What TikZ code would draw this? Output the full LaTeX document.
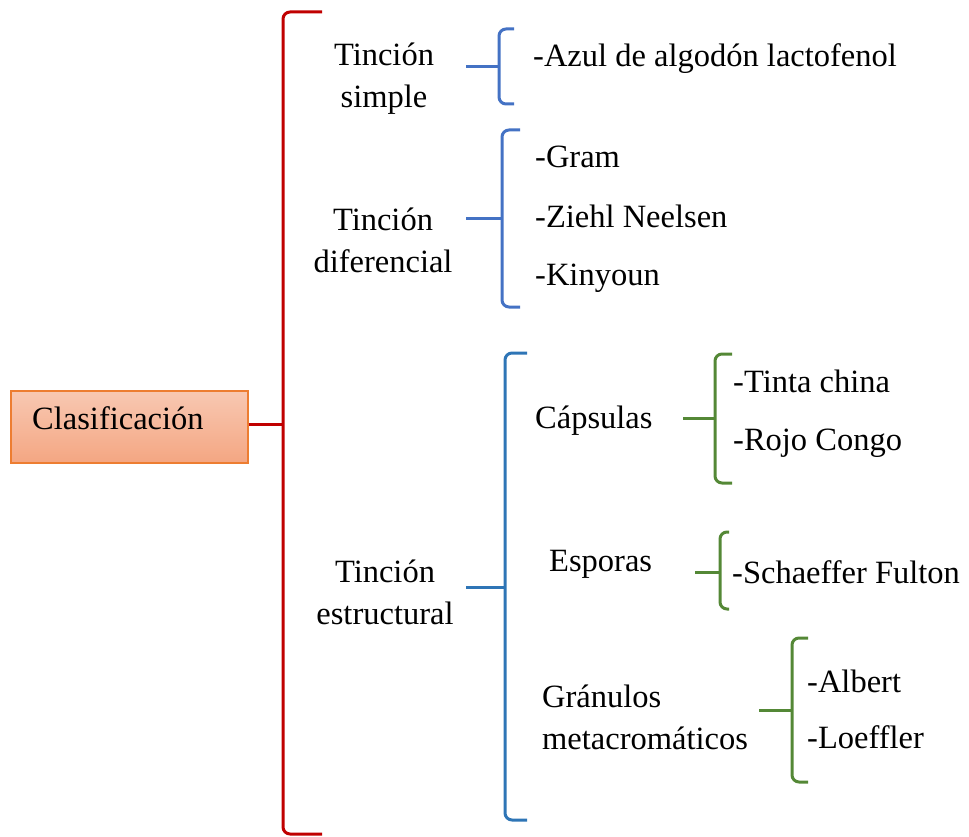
\documentclass[tikz,border=0pt]{standalone}
\usepackage{fontspec}
\setmainfont{Liberation Serif}
\usetikzlibrary{positioning}
\definecolor{bracered}{RGB}{192,0,0}
\definecolor{braceblue}{RGB}{68,114,196}
\definecolor{braceblueb}{RGB}{46,117,182}
\definecolor{bracegreen}{RGB}{84,136,54}
\definecolor{boxline}{RGB}{237,125,49}
\definecolor{boxtop}{RGB}{248,200,178}
\definecolor{boxbot}{RGB}{244,166,130}

\begin{document}
\begin{tikzpicture}[x=1pt,y=-1pt,
  every node/.style={font=\fontsize{32.5}{42}\selectfont, inner sep=0pt},
  leaf/.style={anchor=base west},
  box/.style={draw=boxline, line width=1.2pt, top color=boxtop, bottom color=boxbot,
    minimum width=237pt, minimum height=72pt},
  brace/.style={line width=3pt, rounded corners=7pt}]
\useasboundingbox (0,0) rectangle (969,837);

% root box
\node[box] (clas) at (129.5,427) {};
\node[leaf] (clastxt) at (32,429) {Clasificación};

% first level
\node[anchor=north, align=center] (simple) at (384,43) {Tinción\\simple};
\node[anchor=north, align=center] (difer) at (383,208) {Tinción\\diferencial};
\node[anchor=north, align=center] (estruc) at (385,560) {Tinción\\estructural};

% red brace
\coordinate (rtop) at (322,12);
\coordinate (rmid) at (283,424);
\coordinate (rbot) at (322,834);
\draw[brace, bracered] (clas.east |- rmid) -- (rmid);
\draw[brace, bracered] (rtop) -| (rmid) |- (rbot);

% tincion simple
\coordinate (s1) at (466,67);
\coordinate (b1) at (499,67);
\draw[brace, braceblue] (s1) -- (b1);
\draw[brace, braceblue] (514,29) -| (b1) |- (514,104);
\node[leaf] (azul) at (533,67) {-Azul de algodón lactofenol};

% tincion diferencial
\coordinate (s2) at (466,219);
\coordinate (b2) at (502,219);
\draw[brace, braceblue] (s2) -- (b2);
\draw[brace, braceblue] (520,130) -| (b2) |- (520,307);
\foreach \nm/\yy/\txt in {gram/168/-Gram, ziehl/227/-Ziehl Neelsen, kiny/285/-Kinyoun}
  \node[leaf] (\nm) at (535,\yy) {\txt};

% tincion estructural
\coordinate (s3) at (466,587);
\coordinate (b3) at (505,587);
\draw[brace, braceblueb] (s3) -- (b3);
\draw[brace, braceblueb] (527,353) -| (b3) |- (527,820);
\node[leaf] (caps) at (535,428) {Cápsulas};
\node[leaf] (espo) at (549,571) {Esporas};
\node[anchor=north west, align=left] (gran) at (542,685) {Gránulos\\metacromáticos};

% capsulas
\coordinate (s4) at (683,418);
\coordinate (b4) at (715,418);
\draw[brace, bracegreen] (s4) -- (b4);
\draw[brace, bracegreen] (732,354) -| (b4) |- (732,483);
\node[leaf] (tinta) at (733,392) {-Tinta china};
\node[leaf] (rojo) at (733,450) {-Rojo Congo};

% esporas
\coordinate (s5) at (695,572);
\coordinate (b5) at (720,572);
\draw[brace, bracegreen] (s5) -- (b5);
\draw[brace, bracegreen] (729,532) -| (b5) |- (729,609);
\node[leaf] (schae) at (732,583) {-Schaeffer Fulton};

% granulos
\coordinate (s6) at (759,710);
\coordinate (b6) at (792,710);
\draw[brace, bracegreen] (s6) -- (b6);
\draw[brace, bracegreen] (808,638) -| (b6) |- (808,782);
\node[leaf] (albert) at (807,692) {-Albert};
\node[leaf] (loeff) at (807,748) {-Loeffler};
\end{tikzpicture}
\end{document}
